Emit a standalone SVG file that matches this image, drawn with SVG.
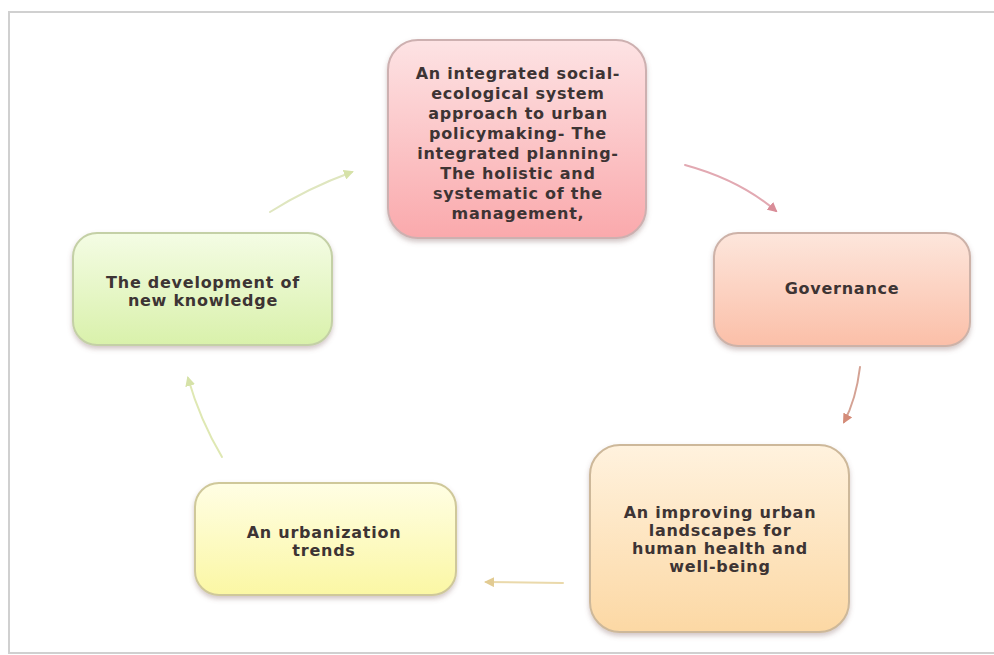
<svg xmlns="http://www.w3.org/2000/svg" width="994" height="655" viewBox="0 0 994 655">
<style>
.box{stroke-width:2}
.t{font-family:"DejaVu Sans","Liberation Sans",sans-serif;font-weight:bold;font-size:16px;letter-spacing:0.75px;fill:#3d3434;text-anchor:middle}
.c{fill:none;stroke-width:2;stroke-linecap:round}
</style>
<defs>
<linearGradient id="gPink" x1="0" y1="0" x2="0" y2="1"><stop offset="0" stop-color="#fde3e4"/><stop offset="1" stop-color="#faa9ac"/></linearGradient>
<linearGradient id="gGov" x1="0" y1="0" x2="0" y2="1"><stop offset="0" stop-color="#fde6dc"/><stop offset="1" stop-color="#fbbfa8"/></linearGradient>
<linearGradient id="gOr" x1="0" y1="0" x2="0" y2="1"><stop offset="0" stop-color="#fff2de"/><stop offset="1" stop-color="#fcd8a4"/></linearGradient>
<linearGradient id="gYe" x1="0" y1="0" x2="0" y2="1"><stop offset="0" stop-color="#fffee4"/><stop offset="1" stop-color="#fbf7a4"/></linearGradient>
<linearGradient id="gGr" x1="0" y1="0" x2="0" y2="1"><stop offset="0" stop-color="#f4fce4"/><stop offset="1" stop-color="#d9f1ab"/></linearGradient>
<filter id="sh" x="-10%" y="-10%" width="120%" height="125%"><feDropShadow dx="0" dy="3" stdDeviation="2.5" flood-color="#806060" flood-opacity="0.35"/></filter>
<marker id="mGr" viewBox="0 0 10 10" refX="8" refY="5" markerWidth="5" markerHeight="5" orient="auto"><path d="M0,0 L10,5 L0,10 z" fill="#d6e2a8"/></marker>
<marker id="mPk" viewBox="0 0 10 10" refX="8" refY="5" markerWidth="5" markerHeight="5" orient="auto"><path d="M0,0 L10,5 L0,10 z" fill="#d98d98"/></marker>
<marker id="mRd" viewBox="0 0 10 10" refX="8" refY="5" markerWidth="5" markerHeight="5" orient="auto"><path d="M0,0 L10,5 L0,10 z" fill="#d48b78"/></marker>
<marker id="mTn" viewBox="0 0 10 10" refX="8" refY="5" markerWidth="5" markerHeight="5" orient="auto"><path d="M0,0 L10,5 L0,10 z" fill="#e2cb92"/></marker>
</defs>
<rect width="994" height="655" fill="#ffffff"/>
<path d="M994,12 H9 V653 H994" fill="none" stroke="#d0d0d0" stroke-width="2"/>

<g id="connectors">
<path class="c" d="M270,212 Q308,188 352,172" stroke="#dfe6bf" marker-end="url(#mGr)"/>
<path class="c" d="M685,165 Q740,180 776,211" stroke="#e2a9b2" marker-end="url(#mPk)"/>
<path class="c" d="M860,367 Q856,400 844,422" stroke="#d4a294" marker-end="url(#mRd)"/>
<path class="c" d="M563,583 L486,582" stroke="#ead9ab" marker-end="url(#mTn)"/>
<path class="c" d="M222,457 Q200,420 188,378" stroke="#dfe8b3" marker-end="url(#mGr)"/>
</g>

<g id="node-integrated">
<rect class="box" x="388" y="40" width="258" height="198" rx="30" fill="url(#gPink)" stroke="#cdb0b0" filter="url(#sh)"/>
<text class="t" x="518" y="79">An integrated social-</text>
<text class="t" x="518" y="99">ecological system</text>
<text class="t" x="518" y="119">approach to urban</text>
<text class="t" x="518" y="139">policymaking- The</text>
<text class="t" x="518" y="159">integrated planning-</text>
<text class="t" x="518" y="179">The holistic and</text>
<text class="t" x="518" y="199">systematic of the</text>
<text class="t" x="518" y="219">management,</text>
</g>

<g id="node-governance">
<rect class="box" x="714" y="233" width="256" height="113" rx="24" fill="url(#gGov)" stroke="#cdb2a8" filter="url(#sh)"/>
<text class="t" x="842" y="294">Governance</text>
</g>

<g id="node-improving">
<rect class="box" x="590" y="445" width="259" height="187" rx="30" fill="url(#gOr)" stroke="#cdb89a" filter="url(#sh)"/>
<text class="t" x="720" y="518">An improving urban</text>
<text class="t" x="720" y="536">landscapes for</text>
<text class="t" x="720" y="554">human health and</text>
<text class="t" x="720" y="572">well-being</text>
</g>

<g id="node-urbanization">
<rect class="box" x="195" y="483" width="261" height="112" rx="24" fill="url(#gYe)" stroke="#cfc89a" filter="url(#sh)"/>
<text class="t" x="324" y="538">An urbanization</text>
<text class="t" x="324" y="556">trends</text>
</g>

<g id="node-knowledge">
<rect class="box" x="73" y="233" width="259" height="112" rx="24" fill="url(#gGr)" stroke="#c4d0a6" filter="url(#sh)"/>
<text class="t" x="203" y="288">The development of</text>
<text class="t" x="203" y="306">new knowledge</text>
</g>
</svg>
